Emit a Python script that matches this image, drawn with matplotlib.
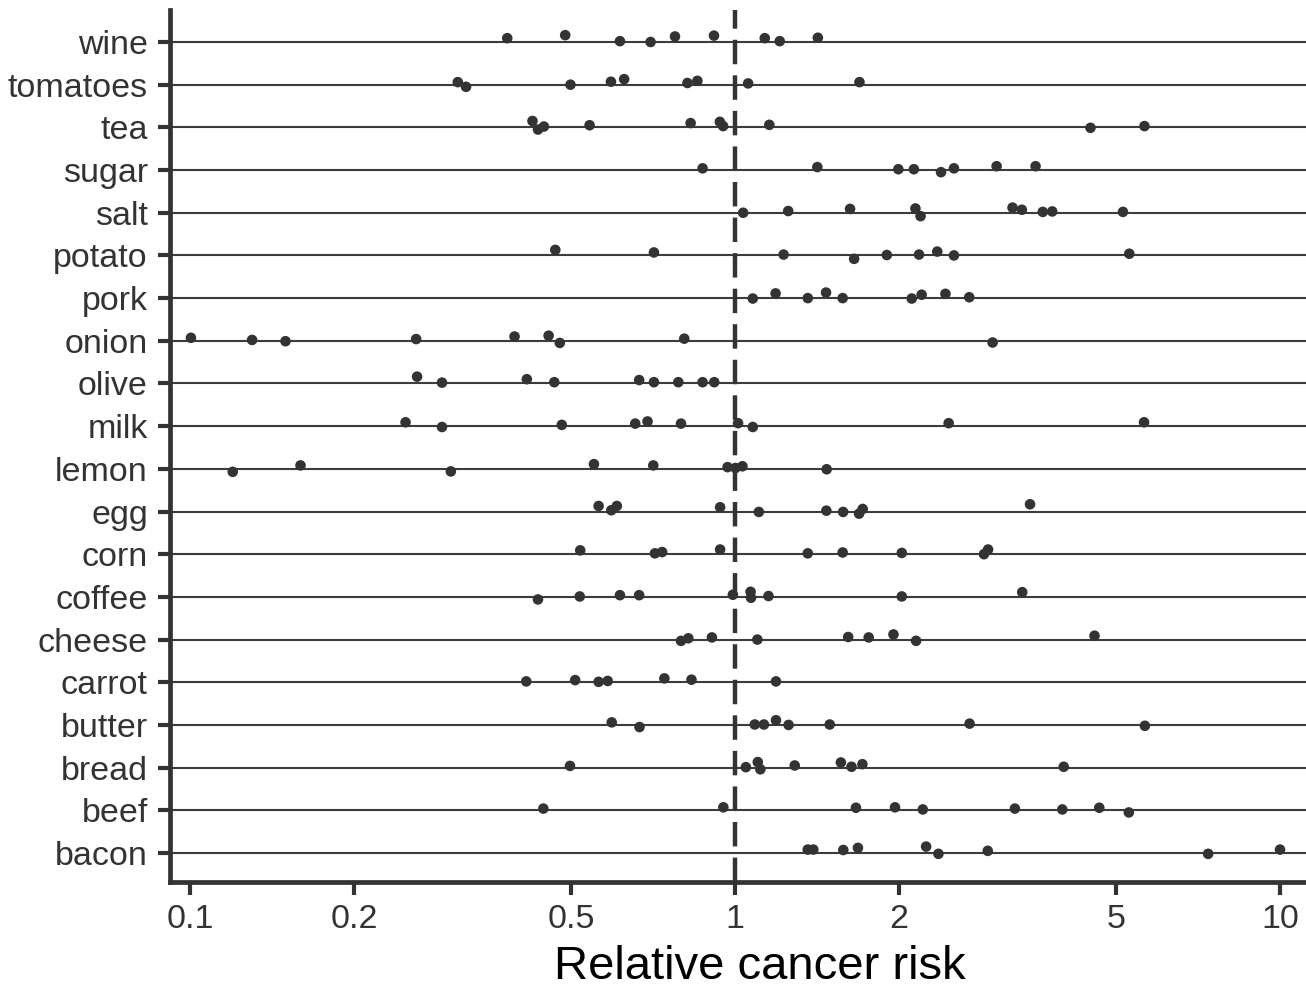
import matplotlib
matplotlib.use("Agg")
import matplotlib.pyplot as plt

plt.rcParams['font.family'] = ['Liberation Sans', 'DejaVu Sans']

# categories, bottom to top
foods = ["bacon", "beef", "bread", "butter", "carrot", "cheese", "coffee",
         "corn", "egg", "lemon", "milk", "olive", "onion", "pork", "potato",
         "salt", "sugar", "tea", "tomatoes", "wine"]

# relative risk of each study, per food (same order as foods)
risk = [
    [1.36, 1.392, 1.58, 1.681, 2.242, 2.362, 2.909, 7.38, 10.0],            # bacon
    [0.445, 0.952, 1.667, 1.966, 2.211, 3.262, 3.986, 4.66, 5.28],          # beef
    [0.498, 1.047, 1.101, 1.113, 1.287, 1.564, 1.636, 1.713, 4.01],         # bread
    [0.594, 0.668, 1.087, 1.13, 1.189, 1.254, 1.492, 2.694, 5.65],          # butter
    [0.414, 0.509, 0.562, 0.584, 0.742, 0.832, 1.189],                      # carrot
    [0.796, 0.821, 0.907, 1.099, 1.613, 1.759, 1.953, 2.149, 4.567],        # cheese
    [0.435, 0.519, 0.615, 0.667, 0.991, 1.068, 1.07, 1.152, 2.023, 3.365],  # coffee
    [0.52, 0.713, 0.735, 0.939, 1.36, 1.576, 2.023, 2.863, 2.913],          # corn
    [0.562, 0.593, 0.607, 0.939, 1.106, 1.471, 1.579, 1.689, 1.715, 3.478], # egg
    [0.1198, 0.1595, 0.301, 0.551, 0.708, 0.969, 1.002, 1.032, 1.473],      # lemon
    [0.2486, 0.29, 0.481, 0.656, 0.691, 0.796, 1.013, 1.078, 2.466, 5.63],  # milk
    [0.261, 0.29, 0.415, 0.466, 0.667, 0.71, 0.787, 0.872, 0.916],          # olive
    [0.1004, 0.13, 0.1497, 0.26, 0.394, 0.455, 0.477, 0.807, 2.969],        # onion
    [1.078, 1.187, 1.36, 1.469, 1.576, 2.11, 2.2, 2.433, 2.69],             # pork
    [0.468, 0.71, 1.228, 1.654, 1.899, 2.176, 2.35, 2.522, 5.29],           # potato
    [1.035, 1.252, 1.626, 2.143, 2.19, 3.23, 3.36, 3.67, 3.82, 5.15],       # salt
    [0.872, 1.416, 1.994, 2.129, 2.388, 2.522, 3.02, 3.56],                 # sugar
    [0.425, 0.435, 0.446, 0.541, 0.829, 0.938, 0.951, 1.156, 4.49, 5.64],   # tea
    [0.31, 0.321, 0.499, 0.592, 0.626, 0.818, 0.853, 1.057, 1.692],         # tomatoes
    [0.382, 0.488, 0.615, 0.7, 0.776, 0.915, 1.134, 1.208, 1.419],          # wine
]

# vertical jitter of each dot
jitter = [
    [.08, .08, .07, .12, .15, -.02, .05, -.02, .08],
    [.04, .07, .06, .07, .02, .04, .02, .06, -.05],
    [.04, .01, .13, -.04, .05, .12, .02, .08, .02],
    [.06, -.05, .01, .01, .11, 0, .01, .03, -.02],
    [.02, .05, .01, .03, .09, .06, .02],
    [-.03, .03, .05, 0, .06, .05, .12, -.03, .09],
    [-.06, .01, .04, .04, .05, .12, -.02, .02, .01, .11],
    [.09, .02, .05, .11, .02, .04, .03, 0, .11],
    [.13, .03, .13, .10, -.01, .02, -.01, -.05, .06, .17],
    [-.07, .08, -.06, .11, .08, .04, .02, .06, -.01],
    [.09, -.02, .03, .06, .11, .06, .07, -.02, .07, .09],
    [.16, .02, .10, .03, .08, .03, .03, .03, .03],
    [.07, .02, -.01, .04, .10, .12, -.05, .05, -.04],
    [-.01, .11, 0, .13, 0, -.01, .08, .10, .02],
    [.13, .07, .02, -.08, .01, .02, .09, 0, .04],
    [0, .04, .09, .10, -.08, .12, .07, .02, .03, .02],
    [.04, .07, .02, .02, -.05, .04, .09, .09],
    [.15, -.05, .02, .05, .10, .13, .03, .06, -.01, .03],
    [.06, -.05, 0, .07, .13, .04, .09, .03, .06],
    [.09, .16, .02, 0, .13, .15, .09, .02, .10],
]

xticks = [0.1, 0.2, 0.5, 1, 2, 5, 10]
xticklabels = ["0.1", "0.2", "0.5", "1", "2", "5", "10"]

dark = "#333333"

fig = plt.figure(figsize=(13.06, 9.91), dpi=100)
ax = fig.add_axes([170/1306, 1 - 882/991, 1 - 170/1306, (882 - 10)/991])

for i, food in enumerate(foods):
    ax.axhline(i, color="#3c3c3c", lw=1.5, zorder=1)
    ys = [i + j for j in jitter[i]]
    ax.scatter(risk[i], ys, s=58, color=dark, edgecolors="none", zorder=3)

ax.axvline(1, color=dark, lw=3.2, linestyle=(0, (5.5, 2.5)), zorder=2)

ax.set_xscale("log")
ax.set_xlim(0.0919, 11.16)
ax.set_ylim(-0.68, 19.75)
ax.set_xticks(xticks)
ax.set_xticklabels(xticklabels)
ax.minorticks_off()
ax.set_yticks(range(len(foods)))
ax.set_yticklabels(foods)

for side in ["top", "right"]:
    ax.spines[side].set_visible(False)
for side in ["left", "bottom"]:
    ax.spines[side].set_linewidth(3.4)
    ax.spines[side].set_color(dark)

ax.tick_params(axis="both", length=9, width=3, color=dark,
               labelsize=24.5, labelcolor=dark)
ax.tick_params(axis="y", pad=7)
ax.tick_params(axis="x", pad=7)

ax.set_xlabel("Relative cancer risk", fontsize=34, color="black")
ax.xaxis.set_label_coords(0.519, -0.072)

fig.savefig("out.png", dpi=100)
